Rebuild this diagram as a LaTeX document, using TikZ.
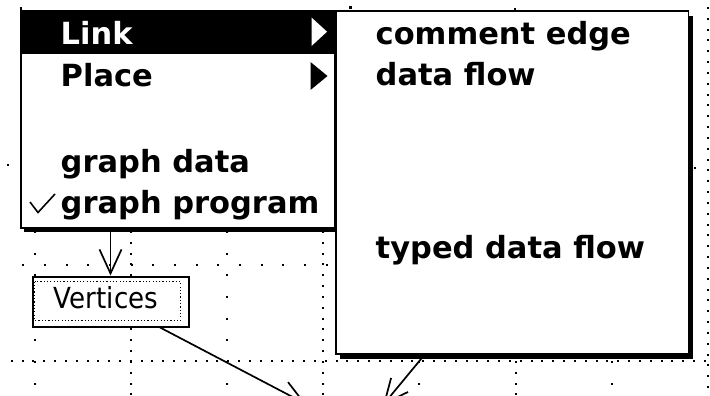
\documentclass[tikz,border=0pt]{standalone}
\usepackage{fontspec}
\setmainfont{DejaVu Sans}
\usetikzlibrary{arrows.meta}
\begin{document}
\begin{tikzpicture}[x=1pt,y=-1pt,
  menutext/.style={anchor=base west, inner sep=0pt, font=\fontsize{30.5}{36}\selectfont\bfseries},
  menuframe/.style={draw=black, fill=white, line width=1.8pt, anchor=north west, inner sep=0pt, outer sep=0pt},
  shade/.style={fill=black},
  edge/.style={line width=1.7pt},
  vhead/.style={-{Straight Barb[length=24pt,width=22pt,line width=1.7pt]}},
  gdot/.style={fill=black}]
\useasboundingbox (0,0) rectangle (710,396);
\clip (0,0) rectangle (710,396);

% --- dotted layout grid ---
% dense columns
\foreach \gx in {130.7,323.1,515.5}
  \foreach \gy in {232,242.83,...,396}
    \fill[gdot] (\gx-1,\gy-1) rectangle ++(2,2);
\foreach \gy in {8,18.83,...,396}
  \fill[gdot] (707.5-1,\gy-1) rectangle ++(2,2);
% sparse columns
\foreach \gx in {34.5,226.9,419.3,611.7}
  \foreach \gy in {232,253.67,...,396}
    \fill[gdot] (\gx-1,\gy-1) rectangle ++(2,2);
% rows
\foreach \gx in {23.3,44.97,...,335}
  \fill[gdot] (\gx-1,264.7-1) rectangle ++(2,2);
\foreach \gx in {11.7,22.53,...,705}
  \fill[gdot] (\gx-1,360.5-1) rectangle ++(2,2);
\fill[gdot] (7,164) rectangle ++(2,2);
\fill[gdot] (694,167) rectangle ++(2,2);
\fill[gdot] (349,6.5) rectangle ++(3,3);
\fill[gdot] (514,8) rectangle ++(2,2);

% --- vertex node ---
\node[draw=black, fill=white, line width=2pt, minimum width=156pt, minimum height=50pt,
      inner sep=0pt, anchor=north west] (vert) at (31.5,275.5) {};
\draw[line width=1.2pt, dash pattern=on 1.2pt off 2.1pt] (34.5,281.5) rectangle (180.5,320.5);
\node[anchor=base, inner sep=0pt, font=\fontsize{29}{32}\selectfont, xscale=0.9] (vertlabel)
  at (106,308) {Vertices};

% --- links leaving the view ---
\coordinate (dstA) at (306,404);
\coordinate (srcB) at (445,330);
\coordinate (dstB) at (383,405);
\draw[edge, vhead] (vert) -- (dstA);
\draw[edge, vhead] (srcB) -- (dstB);

% --- main menu ---
\fill[shade] (24,224) rectangle (338,231.5);
\node[menuframe, minimum width=314pt, minimum height=217pt] (menuA) at (21,11) {};
\draw[line width=1.8pt] (21,7) -- (21,12);
\fill[black] (21,11) rectangle (335,54);
\fill[white] (311.5,17.5) -- (311.5,46) -- (327,31.7) -- cycle;
\fill[black] (310.5,62) -- (310.5,90) -- (327.5,76) -- cycle;
\node[menutext, text=white] (mLink) at (60.5,45) {Link};
\node[menutext] (mPlace) at (60.5,87) {Place};
\node[menutext] (mData) at (60.5,172) {graph data};
\node[menutext] (mProg) at (60.5,213) {graph program};
\draw[line width=1.6pt] (30,202) -- (38,212.5) -- (55,194);

% --- submenu ---
\fill[shade] (340,16) rectangle (693,359);
\node[menuframe, minimum width=352.5pt, minimum height=343pt] (menuB) at (336,11) {};
\node[menutext] (sComment) at (375.5,45) {comment edge};
\node[menutext] (sFlow) at (375.5,86) {data flow};
\node[menutext] (sTyped) at (375.5,258) {typed data flow};

% --- link from the menu down to the vertex ---
\draw[edge, vhead] (vert.north |- menuA.south) -- (vert.north);
\end{tikzpicture}
\end{document}
